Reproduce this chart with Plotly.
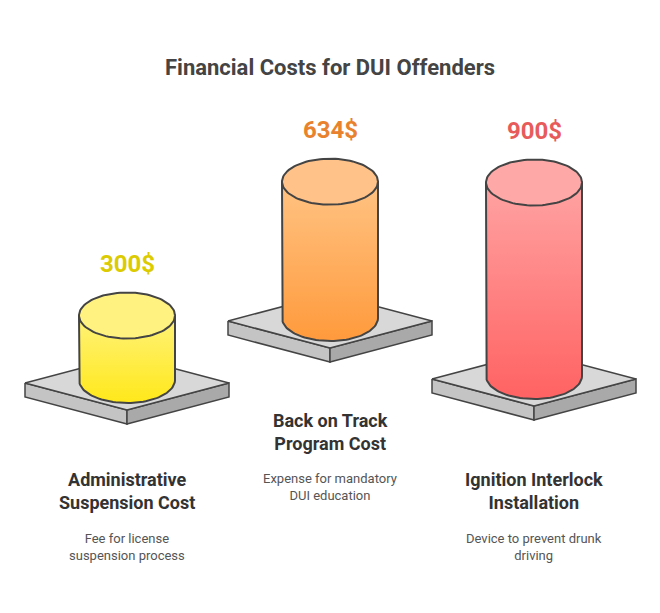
import numpy as np
import plotly.graph_objects as go

# data
categories = ["Administrative<br>Suspension Cost", "Back on Track<br>Program Cost", "Ignition Interlock<br>Installation"]
descriptions = ["Fee for license<br>suspension process", "Expense for mandatory<br>DUI education", "Device to prevent drunk<br>driving"]
values = [300, 634, 900]
value_labels = ["300$", "634$", "900$"]

# styling / layout
centers_x = [127, 330, 534]
bases_y = [380, 318, 376]
scale = 0.215
rx, ry = 48, 23
light = ["#FFF27A", "#FFC383", "#FFA3A3"]
dark = ["#FFE81A", "#FF9A3C", "#FF6262"]
top_col = ["#FFF280", "#FFC288", "#FFA8A8"]
label_col = ["#DCCB00", "#E8822E", "#E85B5B"]
outline = "#444444"

fig = go.Figure()
t = np.linspace(0, np.pi, 60)

for i, v in enumerate(values):
    cx, by = centers_x[i], bases_y[i]
    ty = by - v * scale
    # platform
    pw, ph, th = 102, 27, 14
    py = by + 3
    top = ([cx - pw, cx, cx + pw, cx, cx - pw], [py, py - ph, py, py + ph, py])
    left = ([cx - pw, cx, cx, cx - pw, cx - pw], [py, py + ph, py + ph + th, py + th, py])
    right = ([cx, cx + pw, cx + pw, cx, cx], [py + ph, py, py + th, py + ph + th, py + ph])
    for (xs, ys), c in [(left, "#C4C4C4"), (right, "#A9A9A9"), (top, "#D8D8D8")]:
        fig.add_trace(go.Scatter(x=xs, y=ys, fill="toself", fillcolor=c, mode="lines",
                                 line=dict(color=outline, width=1.5), hoverinfo="skip"))
    # cylinder body
    xs = [cx - rx, cx - rx] + list(cx - rx * np.cos(t)) + [cx + rx, cx - rx]
    ys = [ty, by] + list(by + ry * np.sin(t)) + [ty, ty]
    fig.add_trace(go.Scatter(x=xs, y=ys, fill="toself", mode="lines",
                             fillgradient=dict(type="vertical",
                                               colorscale=[[0, dark[i]], [1, light[i]]]),
                             line=dict(color=outline, width=2), hoverinfo="skip"))
    # top ellipse
    tt = np.linspace(0, 2 * np.pi, 100)
    fig.add_trace(go.Scatter(x=cx + rx * np.cos(tt), y=ty + ry * np.sin(tt), fill="toself",
                             fillcolor=top_col[i], mode="lines",
                             line=dict(color=outline, width=2), hoverinfo="skip"))
    fig.add_annotation(x=cx, y=ty - 52, text="<b>%s</b>" % value_labels[i], showarrow=False,
                       font=dict(size=24, color=label_col[i]))

text_pos = [(491, 547), (432, 487), (491, 547)]
for i in range(3):
    cy, dy = text_pos[i]
    fig.add_annotation(x=centers_x[i], y=cy, text="<b>%s</b>" % categories[i], showarrow=False,
                       font=dict(size=18, color="#333333"))
    fig.add_annotation(x=centers_x[i], y=dy, text=descriptions[i], showarrow=False,
                       font=dict(size=13, color="#555555"))

fig.add_annotation(x=330, y=67, text="<b>Financial Costs for DUI Offenders</b>", showarrow=False,
                   font=dict(size=22, color="#444444"))

# page body adds an 8px offset, so shift the visible window by the same amount
fig.update_layout(width=660, height=613, margin=dict(l=0, r=0, t=0, b=0),
                  plot_bgcolor="white", paper_bgcolor="white", showlegend=False,
                  font=dict(family="Roboto, Arial"),
                  xaxis=dict(range=[8, 668], visible=False, fixedrange=True),
                  yaxis=dict(range=[621, 8], visible=False, fixedrange=True))
fig.write_html("out.html")
